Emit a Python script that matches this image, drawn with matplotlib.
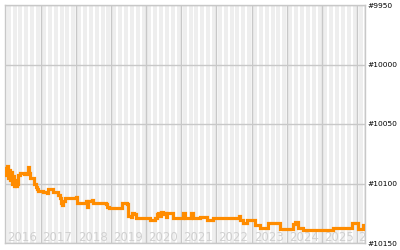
import matplotlib

matplotlib.use("Agg")
import matplotlib.pyplot as plt  # noqa: E402

# --- Data (decimal year, rank) ---------------------------------------

DATES = [
    2016.00, 2016.02, 2016.05, 2016.08, 2016.11, 2016.13, 2016.16, 2016.19,
    2016.22, 2016.25, 2016.28, 2016.30, 2016.33, 2016.36, 2016.42, 2016.53,
    2016.62, 2016.64, 2016.67, 2016.70, 2016.79, 2016.82, 2016.87, 2016.90,
    2016.93, 2017.07, 2017.18, 2017.21, 2017.33, 2017.36, 2017.50, 2017.55,
    2017.58, 2017.61, 2017.64, 2017.70, 2017.89, 2018.01, 2018.04, 2018.18,
    2018.29, 2018.32, 2018.35, 2018.46, 2018.49, 2018.78, 2018.86, 2018.89,
    2018.95, 2019.29, 2019.32, 2019.46, 2019.49, 2019.57, 2019.60, 2019.66,
    2019.71, 2020.08, 2020.11, 2020.22, 2020.25, 2020.31, 2020.34, 2020.39,
    2020.42, 2020.48, 2020.51, 2020.57, 2020.59, 2020.74, 2020.76, 2021.02,
    2021.05, 2021.11, 2021.25, 2021.28, 2021.33, 2021.53, 2021.73, 2021.90,
    2022.64, 2022.67, 2022.75, 2022.87, 2023.10, 2023.24, 2023.46, 2023.80,
    2024.17, 2024.23, 2024.31, 2024.46, 2025.31, 2025.85, 2026.02, 2026.16,
    2026.22,
]
RANKS = [
    10087, 10093, 10085, 10095, 10089, 10097, 10090, 10100,
    10094, 10102, 10097, 10102, 10100, 10093, 10091, 10092,
    10091, 10086, 10091, 10095, 10095, 10100, 10103, 10105,
    10106, 10107, 10108, 10105, 10105, 10107, 10110, 10112,
    10116, 10118, 10115, 10112, 10112, 10111, 10116, 10116,
    10115, 10120, 10115, 10114, 10116, 10116, 10117, 10120,
    10121, 10121, 10116, 10117, 10127, 10128, 10125, 10126,
    10129, 10129, 10131, 10131, 10129, 10126, 10125, 10127,
    10124, 10126, 10125, 10128, 10125, 10125, 10129, 10129,
    10125, 10129, 10129, 10125, 10129, 10128, 10131, 10129,
    10127, 10131, 10133, 10131, 10135, 10137, 10133, 10138,
    10134, 10132, 10137, 10139, 10137, 10133, 10138, 10135,
    10135,
]

YEARS = list(range(2016, 2027))
RANK_TICKS = [9950, 10000, 10050, 10100, 10150]
RANK_LABELS = ["#9950", "#10000", "#10050", "#10100", "#10150"]

X_MIN, X_MAX = 2016.0, 2026.22
GRID = "#c8c8c8"
STRIPE = "#eeeeee"
LINE = "#ff8c00"

fig = plt.figure(figsize=(4.0, 2.5), dpi=100)
ax = fig.add_axes([0.0133, 0.028, 0.899, 0.952])

# month stripes
for yr in YEARS:
    for k in range(6):
        x0 = yr + k / 6 + 0.04
        if x0 < X_MAX:
            ax.axvspan(x0, min(x0 + 0.114, X_MAX), color=STRIPE, lw=0, zorder=0)

for yr in YEARS:
    ax.axvline(yr, color=GRID, lw=1.0, zorder=1)
for r in RANK_TICKS:
    ax.axhline(r, color=GRID, lw=1.0, zorder=1)

# year labels along the bottom, inside the plot (last one is cut by the edge)
for yr in YEARS[:-1]:
    ax.text(yr + 0.06, 10148.5, str(yr), fontsize=8.5, color="#d0d0d0",
            ha="left", va="baseline", zorder=2)
ax.text(YEARS[-1] + 0.03, 10148.5, "2", fontsize=8.5, color="#d0d0d0",
        ha="left", va="baseline", zorder=2, clip_on=True)

ax.plot(DATES, RANKS, drawstyle="steps-post", color=LINE, lw=2.3,
        solid_joinstyle="miter", zorder=3)

ax.set_xlim(X_MIN, X_MAX)
ax.set_ylim(10150, 9950)
ax.set_xticks([])
ax.set_yticks(RANK_TICKS)
ax.set_yticklabels(RANK_LABELS)
ax.yaxis.tick_right()
ax.tick_params(axis="y", length=0, pad=2, labelsize=5.4, colors="black")
for sp in ax.spines.values():
    sp.set_color(GRID)
    sp.set_linewidth(1.0)

fig.savefig("out.png", dpi=100)
